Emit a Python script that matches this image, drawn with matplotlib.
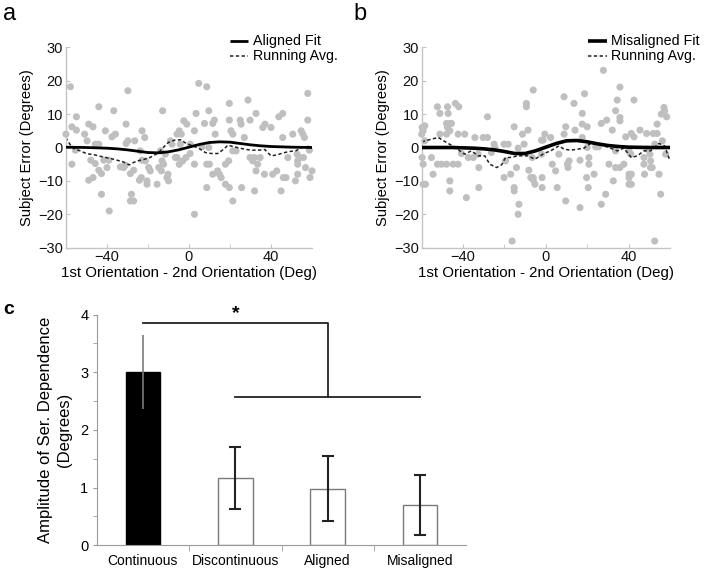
import matplotlib
matplotlib.use('Agg')
import matplotlib.pyplot as plt
from matplotlib.ticker import MultipleLocator, FixedLocator

plt.rcParams['font.family'] = ['Liberation Sans', 'DejaVu Sans']
plt.rcParams['axes.unicode_minus'] = True

# ---------------- Panel a data ----------------
a_pts_x = [-57.7, -59.9, -57, -54.8, -54.8, -57, -55.3, -50.8, -48.8, -46.7, -43.9, -48.8, -46.7, -49.6, -47.8,
           -45.6, -43.9, -42.6, -42.6, -38.8, -36.6, -40.7, -37.5, -35.8, -45.6, -43.9, -41.5, -39, -39.9, -29.7,
           -30.6, -30.6, -29.7, -33.4, -31.8, -31, -28, -28.5, -26.9, -28.5, -26.9, -26.4, -22.8, -21.5, -24.1,
           -23.2, -20.4, -20.4, -23.7, -22.8, -21.2, -19.6, -18.8, -15.5, -14.7, -13.4, -12.8, -13.1, -12.3, -10.7,
           -9.9, -10.2, -13.9, -11.5, -9, -8.2, -6.6, -5.8, -4.7, -5.8, -4.7, -3.7, -2.5, -1, -4.2, 0.7, -3, -1.4,
           4.8, 8.7, 3.5, 2.7, 0.6, 2.7, 2.7, 7.6, 9.7, 11.6, 12.4, 12.8, 8.7, 10, 8.7, 6.4, 9.7, 11.6, 14, 14.9,
           15.7, 17.8, 19.7, 19.7, 19.7, 21.4, 17.8, 19.4, 20.5, 21.4, 21.4, 23, 25, 25.4, 25.7, 28.8, 29.8, 27,
           29.8, 31.1, 31.9, 32.7, 32.7, 32, 33.5, 34.7, 36, 37.1, 36.8, 40, 40.8, 42.8, 43.8, 45.7, 44.9, 45.7,
           46, 47.3, 48.2, 50.6, 51.9, 52.7, 53, 53, 53.8, 53, 54.7, 55.5, 56.3, 55.8, 56.8, 57.9, 57.9, 59, 58.7, 60]
a_pts_y = [18.2, 4, 6.2, 9.2, 5.2, -5, -0.8, 4, 7, 6.2, 12.2, -9.8, -9, 2, -3.8,
           -4.8, -6.8, -7.8, -14, -19, 11, 5, 3.2, 4, 1, 1, -3.8, -3.8, -6, 17,
           7, 1.2, 2, -5.8, -6, -5.3, -14, -16, -16, -7.8, -6.8, 2, 5, 3, -9.8,
           -9, -10, -11, -1, -3.8, -4, -6, -7, -11, -6, -7, 11, -4, -5, -9,
           -10, -8, -1, -2, 2, 1, -3, -3, -5, 4, 5, 4, 8, 7, 1, 1, -4, -3,
           19.2, 18.2, 10.2, 5, -1.8, -5, -20, 7.2, 11, 7.2, 8.2, 4, -5, -5, -12, 0.2, 0, -8, -7, -8,
           -9, -11, -12, 13.2, 8.2, -16, -5, -4, 5, 4, -1, -1, 8.2, 7, -12, 14.2, 8.2, 3,
           -3, -4, -3, 10.2, -7, -13, -5, -3, 6, 7, -8, 6, -8, -7, 9.2, 10.2, -13, 3,
           -9, -9, -3, 4, -10, -2, -4, -5, -3, -8, 5, 4, 3, -3, -6, 16.2, 8.2, -9, -0.8, -7]

a_fit_x = [-60, -55, -50, -45, -40, -35, -30, -25, -20, -15, -10, -5, 0, 5, 10, 15, 20, 25, 30, 35, 40, 45, 50, 55, 60]
a_fit_y = [0.1, 0.05, 0.0, -0.1, -0.2, -0.4, -0.7, -1.1, -1.5, -1.6, -1.3, -0.7, 0.1, 0.9, 1.5, 1.7, 1.6, 1.2, 0.8,
           0.5, 0.3, 0.2, 0.1, 0.05, 0.0]

a_avg_x = [-60, -58, -56, -53, -50, -46, -42, -38, -35, -32, -29, -27, -25, -22, -19, -16, -14, -12, -10, -7, -4, -1,
           2, 5, 8, 11, 14, 17, 19, 22, 25, 28, 31, 34, 37, 40, 43, 46, 49, 52, 55, 58, 60]
a_avg_y = [3.0, 1.0, -0.3, -1.0, -1.8, -2.2, -2.8, -3.3, -3.8, -4.3, -5.2, -4.5, -4.0, -3.6, -3.0, -2.0, -1.0, 0.3,
           1.5, 2.2, 2.3, 1.1, 0.5, -0.3, -1.5, -1.8, -1.8, -0.5, 0.7, 0.2, -0.2, -0.6, -0.8, -0.8, -0.6, -2.5,
           -2.2, -1.6, -1.2, -1.0, 0.0, 0.3, 0.2]

# ---------------- Panel b data ----------------
b_pts_x = [-59.8, -58.5, -59.3, -60, -58.5, -59.8, -59.3, -59.3, -58.2, -55.3, -54.5, -52.4, -51.2, -47.5, -47.2,
           -48, -46.4, -45.6, -47.5, -46.4, -48, -51.2, -52.4, -50.4, -48, -44.8, -42.4, -46.4, -46.4, -43.7,
           -42.1, -42.4, -39.2, -40.8, -38.4, -34.3, -30.3, -28.2, -37.5, -35.1, -32.7, -28.2, -32.4, -32.4, -25,
           -24.6, -26.3, -20.2, -18.2, -19.5, -20.2, -15.3, -17, -15.3, -15.3, -16.3, -14.2, -13.4, -13, -11.3,
           -10.5, -8.6, -6.1, -9.4, -9.4, -8.2, -7.3, -6.1, -6.1, -5.3, -6.6, -2.1, -1.3, -1.8, -1.8, -2.1, -0.5,
           -13.4,
           27.8, 2.3, 3.1, 4.7, 5.5, 6.3, 8.8, 9.6, 8.8, 10.4, 11.2, 10.7, 9.6, 13.6, 14.1, 16.5, 16.5, 17.6,
           18.7, 17.6, 20, 17.6, 20, 20.8, 20.8, 19.7, 20.5, 23.3, 24.1, 25.4, 26.8, 29.4, 26.8, 28.9, 32.1, 33.7,
           30.5, 32.6, 33.7, 34.5, 35.8, 35.8, 35.8, 33.7, 35.8, 38.6, 40.2, 41, 37.7, 40.2, 41.3, 40.2, 41.3,
           40.2, 41.3, 42.6, 42.6, 45.5, 47.4, 47.4, 47.7, 48.7, 50.3, 50.6, 50.6, 51.4, 51.9, 52.7, 53.8, 53.8,
           54.7, 55.5, 52.6, 55.8, 57.1, 57.4, 58.4, 56.3, 57.9, 49]
b_pts_y = [6, 6.5, 5, 4, 2, -3, -5, -11, -11, -3, -8, 12.2, 10.2, 12.2, 10.2,
           7.2, 7.2, 7.2, 6, 5, 4, 4, -5, -5, -5, -5, -5, -10, -13, 13.2,
           12.2, 4, 4, -1.8, -15, 3, 3, 3, -3, -3, -2, 9.2, -6, -12, 1,
           0, -1.5, 1, 1, -4, -9, 6.2, -8, -12, -13, -28, -6, -0.2, -17, 4,
           1, 5.2, 17.2, 13.2, 12.2, -6.8, -9, -9, -9.7, -11, -3, 2.2, 2.2, -9, -12, -2, 4,
           -20,
           23.1, 3, -5, -7, -12, -2, 15.2, 6.2, 4, -5, -4, -6, -16, 13.2, 5.2, -3.8, -18, 10.2,
           16.1, 7, 6.2, 3, 0, -3, -5, -9, -12, -8, 0.2, 0.2, 7.2, 8.2, -17, -14, 5.2, -1,
           -5, -10, 11, 14.2, 18.1, 9, 8, -6, -6, 3.2, -1, -2, -5, -8, -8, -9, -11,
           -11, 4.2, 3.2, 14.2, 5.2, -3, -5, -8, 4.2, -2, -4, -6, -6, 4.2, 1, 7, 4.2,
           -8, -14, -28, 10, 12, 11, 9.2, 2, -2, -0.5]

b_fit_x = [-60, -55, -50, -45, -40, -35, -30, -25, -20, -15, -10, -5, 0, 5, 10, 15, 20, 25, 30, 35, 40, 45, 50, 55, 60]
b_fit_y = [0.0, 0.0, 0.0, 0.0, -0.1, -0.2, -0.4, -0.7, -1.2, -1.8, -1.8, -1.0, 0.1, 1.2, 2.0, 2.1, 1.7, 1.1, 0.6,
           0.3, 0.1, 0.05, 0.0, 0.0, 0.0]

b_avg_x = [-60, -55.3, -52, -47.2, -44, -41.6, -39.2, -36, -32.7, -29.5, -27.1, -23.9, -21.4, -19.5, -17.4, -13.4,
           -8.6, -5.3, -0.9, 2.3, 6.3, 8.8, 12, 15.2, 18.4, 21.6, 24.9, 28.1, 31.3, 34.5, 37.7, 41.3, 44.2, 47.4,
           50.6, 54.7, 57.4, 60]
b_avg_y = [1.7, 2.5, 3.0, 1.2, 0.2, -1.0, -2.0, -1.0, -2.5, -2.5, -5.0, -6.0, -5.2, -3.0, -3.0, -2.5,
           -2.5, -3.5, -1.8, -1.0, 0.5, -0.5, -0.8, -0.5, -0.2, 1.2, 1.0, 0.5, -0.2, -1.0, -0.2, -3.0, -2.5, -1.0,
           -1.0, 1.2, 0.5, -4.0]

# ---------------- Panel c data ----------------
c_categories = ['Continuous', 'Discontinuous', 'Aligned', 'Misaligned']
c_values = [3.0, 1.17, 0.98, 0.70]
c_errors = [0.64, 0.54, 0.56, 0.52]
c_sig_star = '*'

x_ticks_ab = [-40, 0, 40]
y_ticks_ab = [-30, -20, -10, 0, 10, 20, 30]

PT_COLOR = '#bfbfbf'
SPINE_COLOR = '#c4c4c4'

fig = plt.figure(figsize=(7.06, 5.68), dpi=100)


def scatter_panel(rect, px, py, fx, fy, ax_, ay_, fit_label, fit_lw, leg_x0):
    ax = fig.add_axes(rect)
    ax.scatter(px, py, s=26, color=PT_COLOR, edgecolors='none', zorder=1, clip_on=False)
    ax.plot(fx, fy, color='black', lw=fit_lw, zorder=3, solid_capstyle='butt')
    ax.plot(ax_, ay_, color='#222222', lw=1.1, ls=(0, (2.2, 1.6)), zorder=2)
    ax.set_xlim(-60, 60)
    ax.set_ylim(-30, 30)
    ax.xaxis.set_major_locator(FixedLocator(x_ticks_ab))
    ax.xaxis.set_minor_locator(FixedLocator([-20, 20]))
    ax.yaxis.set_major_locator(FixedLocator(y_ticks_ab))
    for s in ['top', 'right']:
        ax.spines[s].set_visible(False)
    for s in ['left', 'bottom']:
        ax.spines[s].set_color(SPINE_COLOR)
        ax.spines[s].set_linewidth(1.0)
    ax.tick_params(axis='both', which='both', direction='in', length=3, color=SPINE_COLOR,
                   labelsize=10.5, labelcolor='#111111', pad=2)
    ax.set_xlabel('1st Orientation - 2nd Orientation (Deg)', fontsize=10.8, labelpad=1)
    ax.set_ylabel('Subject Error (Degrees)', fontsize=10.6, labelpad=3)
    # legend (drawn manually, tight rows as in the reference)
    lx0, lx1, tx = leg_x0, leg_x0 + 0.074, leg_x0 + 0.093
    y1, y2 = 1.030, 0.958
    ax.plot([lx0, lx1], [y1, y1], transform=ax.transAxes, color='black', lw=fit_lw, clip_on=False,
            solid_capstyle='butt')
    ax.plot([lx0, lx1], [y2, y2], transform=ax.transAxes, color='#222222', lw=1.1,
            ls=(0, (2.2, 1.6)), clip_on=False)
    ax.text(tx, y1, fit_label, transform=ax.transAxes, fontsize=10.3, va='center', ha='left')
    ax.text(tx, y2, 'Running Avg.', transform=ax.transAxes, fontsize=10.3, va='center', ha='left')
    return ax


axa = scatter_panel([0.0931, 0.5639, 0.3489, 0.3528], a_pts_x, a_pts_y, a_fit_x, a_fit_y, a_avg_x, a_avg_y,
                    'Aligned Fit', 2.0, 0.667)
axb = scatter_panel([0.5973, 0.5639, 0.3517, 0.3528], b_pts_x, b_pts_y, b_fit_x, b_fit_y, b_avg_x, b_avg_y,
                    'Misaligned Fit', 2.6, 0.671)

# ---------------- Panel c ----------------
axc = fig.add_axes([0.137, 0.04, 0.5235, 0.406])
pos = list(range(len(c_categories)))
face = ['black', 'white', 'white', 'white']
edge = ['black', '#7a7a7a', '#7a7a7a', '#7a7a7a']
axc.bar(pos, c_values, width=0.375, color=face, edgecolor=edge, linewidth=1.0, zorder=2)
axc.errorbar(pos[0], c_values[0], yerr=c_errors[0], fmt='none', ecolor='#7a7a7a', elinewidth=1.2,
             capsize=0, zorder=3)
axc.errorbar(pos[1:], c_values[1:], yerr=c_errors[1:], fmt='none', ecolor='#222222', elinewidth=1.5,
             capsize=4, capthick=1.5, zorder=3)
axc.set_xlim(-0.5, 3.5)
axc.set_ylim(0, 4)
axc.set_xticks(pos)
axc.set_xticklabels(c_categories, fontsize=10)
axc.xaxis.set_minor_locator(FixedLocator([0.5, 1.5, 2.5]))
axc.tick_params(axis='x', which='major', length=0, pad=6)
axc.tick_params(axis='x', which='minor', length=4, direction='out', color='#9a9a9a')
axc.yaxis.set_major_locator(MultipleLocator(1))
axc.yaxis.set_minor_locator(MultipleLocator(0.5))
axc.tick_params(axis='y', which='both', direction='out', length=3, color='#9a9a9a', labelsize=10.5, pad=3)
for s in ['top', 'right']:
    axc.spines[s].set_visible(False)
for s in ['left', 'bottom']:
    axc.spines[s].set_color('#9a9a9a')
axc.set_ylabel('Amplitude of Ser. Dependence\n(Degrees)', fontsize=12, labelpad=6, linespacing=1.3)

# significance bracket
axc.plot([0, 2, 2], [3.86, 3.86, 2.57], color='#222222', lw=1.3, clip_on=False)
axc.plot([1, 3], [2.57, 2.57], color='#222222', lw=1.3, clip_on=False)
axc.text(1, 3.87, c_sig_star, fontsize=14, ha='center', va='bottom', fontweight='bold')

# panel letters
fig.text(0.004, 1 - 20 / 568, 'a', fontsize=17, ha='left', va='baseline')
fig.text(0.5, 1 - 20 / 568, 'b', fontsize=17, ha='left', va='baseline')
fig.text(0.004, 1 - 314 / 568, 'c', fontsize=14, ha='left', va='baseline', fontweight='bold')

fig.savefig('out.png', dpi=100)
